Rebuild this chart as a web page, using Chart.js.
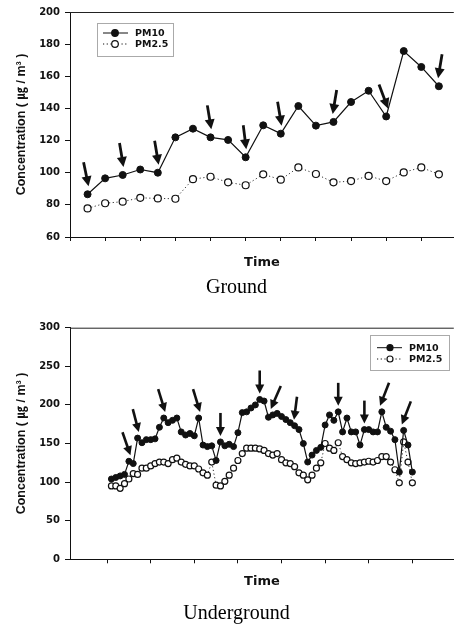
<!DOCTYPE html>
<html>
<head>
<meta charset="utf-8">
<script src="https://cdn.jsdelivr.net/npm/chart.js@4.4.1/dist/chart.umd.min.js"></script>
<style>
  html, body { margin: 0; padding: 0; background: #fff; overflow: hidden; }
  #groundChart { position: absolute; left: 0; top: 0; }
  #undergroundChart { position: absolute; left: 0; top: 300px; }
</style>
</head>
<body>
<canvas id="groundChart" width="459" height="300"></canvas>
<canvas id="undergroundChart" width="459" height="326"></canvas>
<script>
// ground measurements (one point per sample)
const groundPM10 = [86.6, 96.5, 98.6, 102, 100, 122, 127.4, 122, 120.4, 109.6, 129.5,
                    124.3, 141.5, 129.3, 131.6, 144, 151, 135, 175.7, 165.8, 153.8];
const groundPM25 = [77.8, 81, 82, 84.4, 84, 83.8, 96, 97.5, 94, 92.2, 99,
                    95.7, 103.3, 99.2, 94, 94.8, 98, 94.8, 100.2, 103.3, 99];
const groundArrows = [0, 2, 4, 7, 9, 11, 14, 17, 20];
const groundLean = [-5, -4, -4, -4, -3, -4, 4, -9, 4];

// underground measurements
const ugPM10 = [104, 106, 108, 110, 127, 124, 157, 151, 155, 155,
                156, 171, 183, 177, 180, 183, 165, 161, 163, 160,
                183, 148, 146, 147, 128, 152, 147, 149, 146, 164,
                190, 191, 196, 200, 207, 205, 184, 187, 189, 185,
                181, 177, 173, 168, 150, 126, 135, 141, 145, 174,
                187, 180, 191, 165, 183, 165, 165, 148, 168, 168,
                165, 165, 191, 171, 166, 155, 113, 167, 148, 113];
const ugPM25 = [95, 95, 92, 98, 104, 111, 110, 118, 118, 121,
                124, 126, 126, 124, 129, 131, 126, 123, 121, 121,
                117, 112, 109, 126, 96, 95, 101, 109, 118, 128,
                137, 144, 144, 144, 143, 141, 137, 135, 137, 129,
                125, 124, 120, 112, 109, 103, 109, 118, 125, 150,
                144, 141, 151, 133, 129, 125, 124, 125, 126, 127,
                126, 128, 133, 133, 126, 116, 99, 152, 126, 99];
const ugArrows = [4, 6, 12, 20, 25, 34, 37, 42, 52, 58, 62, 67];
const ugLean = [-8, -6, -7, -7, 0, 0, 10, 3, 0, 0, 9, 9];

const seriesNames = ['PM10', 'PM2.5'];
const yTitle = 'Concentration ( \u338D / m\u00B3 )';
const xTitle = 'Time';

Chart.defaults.font.family = "'DejaVu Sans', sans-serif";
Chart.defaults.color = '#111';

const ink = '#111';

const arrowPlugin = {
  id: 'arrows',
  afterDatasetsDraw(chart, args, opts) {
    const pts = chart.getDatasetMeta(0).data;
    const ctx = chart.ctx;
    ctx.save();
    ctx.strokeStyle = ink;
    ctx.fillStyle = ink;
    ctx.lineWidth = opts.width;
    opts.at.forEach((idx, k) => {
      const p = pts[idx];
      const lean = opts.lean[k];
      const tipX = p.x - lean * 0.2, tipY = p.y - opts.gap;
      const tailX = tipX + lean, tailY = tipY - opts.len;
      const d = Math.hypot(tipX - tailX, tipY - tailY);
      const ux = (tipX - tailX) / d, uy = (tipY - tailY) / d;
      const bx = tipX - ux * opts.head, by = tipY - uy * opts.head;
      ctx.beginPath();
      ctx.moveTo(tailX, tailY);
      ctx.lineTo(bx + ux, by + uy);
      ctx.stroke();
      ctx.beginPath();
      ctx.moveTo(tipX, tipY);
      ctx.lineTo(bx - uy * opts.half, by + ux * opts.half);
      ctx.lineTo(bx + uy * opts.half, by - ux * opts.half);
      ctx.closePath();
      ctx.fill();
    });
    ctx.restore();
  }
};

const framePlugin = {
  id: 'frame',
  afterDraw(chart, args, opts) {
    const ctx = chart.ctx;
    const a = chart.chartArea;
    ctx.save();
    ctx.strokeStyle = '#222';
    ctx.lineWidth = 1;
    ctx.beginPath();
    ctx.moveTo(a.left, a.top + 0.5);
    ctx.lineTo(a.right, a.top + 0.5);
    ctx.stroke();

    // boxed legend
    const L = opts.legend;
    ctx.strokeStyle = '#555';
    ctx.setLineDash([1, 1]);
    ctx.strokeRect(L.x + 0.5, L.y + 0.5, L.w, L.h);
    chart.data.datasets.forEach((ds, i) => {
      const y = L.rows[i];
      ctx.strokeStyle = ink;
      ctx.lineWidth = 1;
      ctx.setLineDash(ds.borderDash || []);
      ctx.beginPath();
      ctx.moveTo(L.lineFrom, y);
      ctx.lineTo(L.lineTo, y);
      ctx.stroke();
      ctx.setLineDash([]);
      ctx.beginPath();
      ctx.arc(L.mark, y, L.r, 0, Math.PI * 2);
      ctx.fillStyle = ds.pointBackgroundColor;
      ctx.fill();
      ctx.lineWidth = 1.2;
      ctx.stroke();
      ctx.fillStyle = ink;
      ctx.font = "bold 9.5px 'DejaVu Sans'";
      ctx.textBaseline = 'middle';
      ctx.fillText(ds.label, L.text, y + 0.5);
    });
    ctx.restore();
  }
};

function makeChart(id, cfg) {
  const pm10 = cfg.pm10.map((v, i) => ({ x: i + cfg.first, y: v }));
  const pm25 = cfg.pm25.map((v, i) => ({ x: i + cfg.first, y: v }));
  return new Chart(document.getElementById(id), {
    type: 'line',
    data: {
      datasets: [{
        label: seriesNames[0],
        data: pm10,
        borderColor: ink,
        borderWidth: 1.2,
        pointRadius: cfg.r,
        pointBackgroundColor: ink,
        pointBorderColor: ink,
        pointBorderWidth: 1,
        tension: 0
      }, {
        label: seriesNames[1],
        data: pm25,
        borderColor: '#333',
        borderWidth: 1,
        borderDash: [1.2, 2.5],
        pointRadius: cfg.r,
        pointBackgroundColor: '#fff',
        pointBorderColor: ink,
        pointBorderWidth: 1.2,
        tension: 0
      }]
    },
    options: {
      responsive: false,
      animation: false,
      layout: { padding: { left: 14, right: 0, top: cfg.top, bottom: 0 } },
      scales: {
        x: {
          type: 'linear',
          min: cfg.xMin,
          max: cfg.xMax,
          afterBuildTicks: (scale) => { scale.ticks = cfg.xTicks.map(v => ({ value: v })); },
          afterFit: (scale) => { scale.height = cfg.xHeight; },
          ticks: { callback: () => '' },
          grid: { drawOnChartArea: false, drawTicks: true, tickLength: 4, color: ink },
          border: { color: ink, width: 1 },
          title: {
            display: true,
            text: xTitle,
            padding: 0,
            font: { size: 13, weight: 'bold', family: "'DejaVu Sans'" }
          }
        },
        y: {
          min: cfg.yMin,
          max: cfg.yMax,
          afterFit: (scale) => { scale.width = 56; },
          ticks: { stepSize: cfg.yStep, padding: 5, font: { size: 10, weight: 'bold' } },
          grid: { drawOnChartArea: false, drawTicks: true, tickLength: 5, color: ink },
          border: { color: ink, width: 1 },
          title: {
            display: true,
            text: yTitle,
            padding: 0,
            font: { size: 12.5, weight: 'bold', family: "'Liberation Sans', 'Noto Sans CJK KR', sans-serif" }
          }
        }
      },
      plugins: {
        legend: { display: false },
        tooltip: { enabled: false },
        title: {
          display: true,
          position: 'bottom',
          text: cfg.caption,
          color: '#000',
          padding: { top: cfg.capPad, bottom: 0 },
          font: { size: 20, weight: 'normal', family: "'Liberation Serif', serif" }
        },
        arrows: cfg.arrows,
        frame: { legend: cfg.legend }
      }
    },
    plugins: [arrowPlugin, framePlugin]
  });
}

makeChart('groundChart', {
  pm10: groundPM10, pm25: groundPM25, first: 1, r: 3.5,
  top: 12, xMin: 0, xMax: 21.85, xTicks: [0, 2, 4, 6, 8, 10, 12, 14, 16, 18, 20],
  xHeight: 33.5, capPad: 5.5, caption: 'Ground',
  yMin: 60, yMax: 200, yStep: 20,
  arrows: { at: groundArrows, lean: groundLean, gap: 8, len: 24, head: 10, half: 5, width: 2.8 },
  legend: { x: 97, y: 23, w: 76, h: 33, rows: [33, 44], lineFrom: 103, lineTo: 128, mark: 115, text: 135, r: 3.3 }
});

makeChart('undergroundChart', {
  pm10: ugPM10, pm25: ugPM25, first: 0, r: 3,
  top: 27.7, xMin: -9.5, xMax: 78.5, xTicks: [-1, 9, 19, 29, 39, 49, 59, 69],
  xHeight: 30.2, capPad: 12.5, caption: 'Underground',
  yMin: 0, yMax: 300, yStep: 50,
  arrows: { at: ugArrows, lean: ugLean, gap: 6, len: 23, head: 9, half: 4.5, width: 2.6 },
  legend: { x: 370, y: 35, w: 79, h: 35, rows: [47.7, 59], lineFrom: 377, lineTo: 402, mark: 390, text: 409, r: 3 }
});
</script>
</body>
</html>
